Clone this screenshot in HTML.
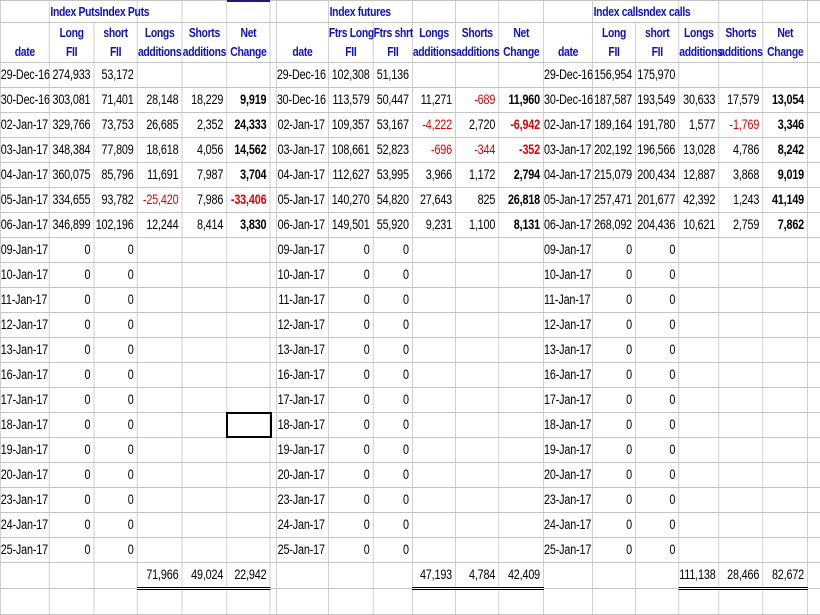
<!DOCTYPE html>
<html><head><meta charset="utf-8"><style>
body{margin:0;width:820px;height:593px;overflow:hidden;background:#fff;font-family:"Liberation Sans",sans-serif;font-size:13.5px;position:relative}
#wrap{position:absolute;left:0;top:0;width:1025px;transform:scaleX(0.8);transform-origin:0 0;}
table{border-collapse:collapse;table-layout:fixed;width:1025px;}
td{border:1px solid #c4c4c4;padding:0 4px 0 0;text-align:right;white-space:nowrap;overflow:visible;height:24px;line-height:24px;letter-spacing:-0.2px}
tr.h1 td{height:21px;line-height:21px;}
tr.h2 td{height:19px;line-height:19px;border-bottom:none;}
tr.h3 td{height:20px;line-height:20px;border-top:none;}
.hd{color:#1010c8;text-align:center;padding:0;font-weight:bold;font-size:13px;letter-spacing:-0.4px}
.l{text-align:left;padding-left:1px}
.b{font-weight:bold}
.r{color:#e00000}
.tt{border-top:1px solid #000;border-bottom:3px double #000}
</style></head><body>
<div style="position:absolute;left:227px;top:0;width:43px;height:2px;background:#1a1a6e;z-index:2"></div>
<div style="position:absolute;left:226px;top:412px;width:42px;height:22px;border:2px solid #000;z-index:2"></div>
<div id="wrap">
<table>
<colgroup>
<col style="width:61px"><col style="width:56px"><col style="width:54px"><col style="width:56px"><col style="width:56px"><col style="width:54px"><col style="width:8px">
<col style="width:65px"><col style="width:56px"><col style="width:49px"><col style="width:54px"><col style="width:54px"><col style="width:56px">
<col style="width:61px"><col style="width:54px"><col style="width:54px"><col style="width:50px"><col style="width:55px"><col style="width:56px"><col style="width:16px">
</colgroup>
<tr class="h1"><td></td><td class="hd l" colspan="2">Index PutsIndex Puts</td><td></td><td></td><td></td><td></td>
<td></td><td class="hd l" colspan="2">Index futures</td><td></td><td></td><td></td>
<td></td><td class="hd l" colspan="2">Index callsndex calls</td><td></td><td></td><td></td><td></td></tr>
<tr class="h2"><td></td><td class="hd">Long</td><td class="hd">short</td><td class="hd">Longs</td><td class="hd">Shorts</td><td class="hd">Net</td><td></td>
<td></td><td class="hd">Ftrs Long</td><td class="hd">Ftrs shrt</td><td class="hd">Longs</td><td class="hd">Shorts</td><td class="hd">Net</td>
<td></td><td class="hd">Long</td><td class="hd">short</td><td class="hd">Longs</td><td class="hd">Shorts</td><td class="hd">Net</td><td></td></tr>
<tr class="h3"><td class="hd">date</td><td class="hd">FII</td><td class="hd">FII</td><td class="hd">additions</td><td class="hd">additions</td><td class="hd">Change</td><td></td>
<td class="hd">date</td><td class="hd">FII</td><td class="hd">FII</td><td class="hd">additions</td><td class="hd">additions</td><td class="hd">Change</td>
<td class="hd">date</td><td class="hd">FII</td><td class="hd">FII</td><td class="hd">additions</td><td class="hd">additions</td><td class="hd">Change</td><td></td></tr>
<tr><td>29-Dec-16</td><td>274,933</td><td>53,172</td><td></td><td></td><td></td><td></td><td>29-Dec-16</td><td>102,308</td><td>51,136</td><td></td><td></td><td></td><td>29-Dec-16</td><td>156,954</td><td>175,970</td><td></td><td></td><td></td><td></td></tr>
<tr><td>30-Dec-16</td><td>303,081</td><td>71,401</td><td>28,148</td><td>18,229</td><td class="b">9,919</td><td></td><td>30-Dec-16</td><td>113,579</td><td>50,447</td><td>11,271</td><td class="r">-689</td><td class="b">11,960</td><td>30-Dec-16</td><td>187,587</td><td>193,549</td><td>30,633</td><td>17,579</td><td class="b">13,054</td><td></td></tr>
<tr><td>02-Jan-17</td><td>329,766</td><td>73,753</td><td>26,685</td><td>2,352</td><td class="b">24,333</td><td></td><td>02-Jan-17</td><td>109,357</td><td>53,167</td><td class="r">-4,222</td><td>2,720</td><td class="b r">-6,942</td><td>02-Jan-17</td><td>189,164</td><td>191,780</td><td>1,577</td><td class="r">-1,769</td><td class="b">3,346</td><td></td></tr>
<tr><td>03-Jan-17</td><td>348,384</td><td>77,809</td><td>18,618</td><td>4,056</td><td class="b">14,562</td><td></td><td>03-Jan-17</td><td>108,661</td><td>52,823</td><td class="r">-696</td><td class="r">-344</td><td class="b r">-352</td><td>03-Jan-17</td><td>202,192</td><td>196,566</td><td>13,028</td><td>4,786</td><td class="b">8,242</td><td></td></tr>
<tr><td>04-Jan-17</td><td>360,075</td><td>85,796</td><td>11,691</td><td>7,987</td><td class="b">3,704</td><td></td><td>04-Jan-17</td><td>112,627</td><td>53,995</td><td>3,966</td><td>1,172</td><td class="b">2,794</td><td>04-Jan-17</td><td>215,079</td><td>200,434</td><td>12,887</td><td>3,868</td><td class="b">9,019</td><td></td></tr>
<tr><td>05-Jan-17</td><td>334,655</td><td>93,782</td><td class="r">-25,420</td><td>7,986</td><td class="b r">-33,406</td><td></td><td>05-Jan-17</td><td>140,270</td><td>54,820</td><td>27,643</td><td>825</td><td class="b">26,818</td><td>05-Jan-17</td><td>257,471</td><td>201,677</td><td>42,392</td><td>1,243</td><td class="b">41,149</td><td></td></tr>
<tr><td>06-Jan-17</td><td>346,899</td><td>102,196</td><td>12,244</td><td>8,414</td><td class="b">3,830</td><td></td><td>06-Jan-17</td><td>149,501</td><td>55,920</td><td>9,231</td><td>1,100</td><td class="b">8,131</td><td>06-Jan-17</td><td>268,092</td><td>204,436</td><td>10,621</td><td>2,759</td><td class="b">7,862</td><td></td></tr>
<tr><td>09-Jan-17</td><td>0</td><td>0</td><td></td><td></td><td></td><td></td><td>09-Jan-17</td><td>0</td><td>0</td><td></td><td></td><td></td><td>09-Jan-17</td><td>0</td><td>0</td><td></td><td></td><td></td><td></td></tr>
<tr><td>10-Jan-17</td><td>0</td><td>0</td><td></td><td></td><td></td><td></td><td>10-Jan-17</td><td>0</td><td>0</td><td></td><td></td><td></td><td>10-Jan-17</td><td>0</td><td>0</td><td></td><td></td><td></td><td></td></tr>
<tr><td>11-Jan-17</td><td>0</td><td>0</td><td></td><td></td><td></td><td></td><td>11-Jan-17</td><td>0</td><td>0</td><td></td><td></td><td></td><td>11-Jan-17</td><td>0</td><td>0</td><td></td><td></td><td></td><td></td></tr>
<tr><td>12-Jan-17</td><td>0</td><td>0</td><td></td><td></td><td></td><td></td><td>12-Jan-17</td><td>0</td><td>0</td><td></td><td></td><td></td><td>12-Jan-17</td><td>0</td><td>0</td><td></td><td></td><td></td><td></td></tr>
<tr><td>13-Jan-17</td><td>0</td><td>0</td><td></td><td></td><td></td><td></td><td>13-Jan-17</td><td>0</td><td>0</td><td></td><td></td><td></td><td>13-Jan-17</td><td>0</td><td>0</td><td></td><td></td><td></td><td></td></tr>
<tr><td>16-Jan-17</td><td>0</td><td>0</td><td></td><td></td><td></td><td></td><td>16-Jan-17</td><td>0</td><td>0</td><td></td><td></td><td></td><td>16-Jan-17</td><td>0</td><td>0</td><td></td><td></td><td></td><td></td></tr>
<tr><td>17-Jan-17</td><td>0</td><td>0</td><td></td><td></td><td></td><td></td><td>17-Jan-17</td><td>0</td><td>0</td><td></td><td></td><td></td><td>17-Jan-17</td><td>0</td><td>0</td><td></td><td></td><td></td><td></td></tr>
<tr><td>18-Jan-17</td><td>0</td><td>0</td><td></td><td></td><td></td><td></td><td>18-Jan-17</td><td>0</td><td>0</td><td></td><td></td><td></td><td>18-Jan-17</td><td>0</td><td>0</td><td></td><td></td><td></td><td></td></tr>
<tr><td>19-Jan-17</td><td>0</td><td>0</td><td></td><td></td><td></td><td></td><td>19-Jan-17</td><td>0</td><td>0</td><td></td><td></td><td></td><td>19-Jan-17</td><td>0</td><td>0</td><td></td><td></td><td></td><td></td></tr>
<tr><td>20-Jan-17</td><td>0</td><td>0</td><td></td><td></td><td></td><td></td><td>20-Jan-17</td><td>0</td><td>0</td><td></td><td></td><td></td><td>20-Jan-17</td><td>0</td><td>0</td><td></td><td></td><td></td><td></td></tr>
<tr><td>23-Jan-17</td><td>0</td><td>0</td><td></td><td></td><td></td><td></td><td>23-Jan-17</td><td>0</td><td>0</td><td></td><td></td><td></td><td>23-Jan-17</td><td>0</td><td>0</td><td></td><td></td><td></td><td></td></tr>
<tr><td>24-Jan-17</td><td>0</td><td>0</td><td></td><td></td><td></td><td></td><td>24-Jan-17</td><td>0</td><td>0</td><td></td><td></td><td></td><td>24-Jan-17</td><td>0</td><td>0</td><td></td><td></td><td></td><td></td></tr>
<tr><td>25-Jan-17</td><td>0</td><td>0</td><td></td><td></td><td></td><td></td><td>25-Jan-17</td><td>0</td><td>0</td><td></td><td></td><td></td><td>25-Jan-17</td><td>0</td><td>0</td><td></td><td></td><td></td><td></td></tr>
<tr><td></td><td></td><td></td><td class="tt">71,966</td><td class="tt">49,024</td><td class="tt">22,942</td><td></td><td></td><td></td><td></td><td class="tt">47,193</td><td class="tt">4,784</td><td class="tt">42,409</td><td></td><td></td><td></td><td class="tt">111,138</td><td class="tt">28,466</td><td class="tt">82,672</td><td></td></tr>
<tr><td></td><td></td><td></td><td></td><td></td><td></td><td></td><td></td><td></td><td></td><td></td><td></td><td></td><td></td><td></td><td></td><td></td><td></td><td></td><td></td></tr>
</table>
</div>
</body></html>
